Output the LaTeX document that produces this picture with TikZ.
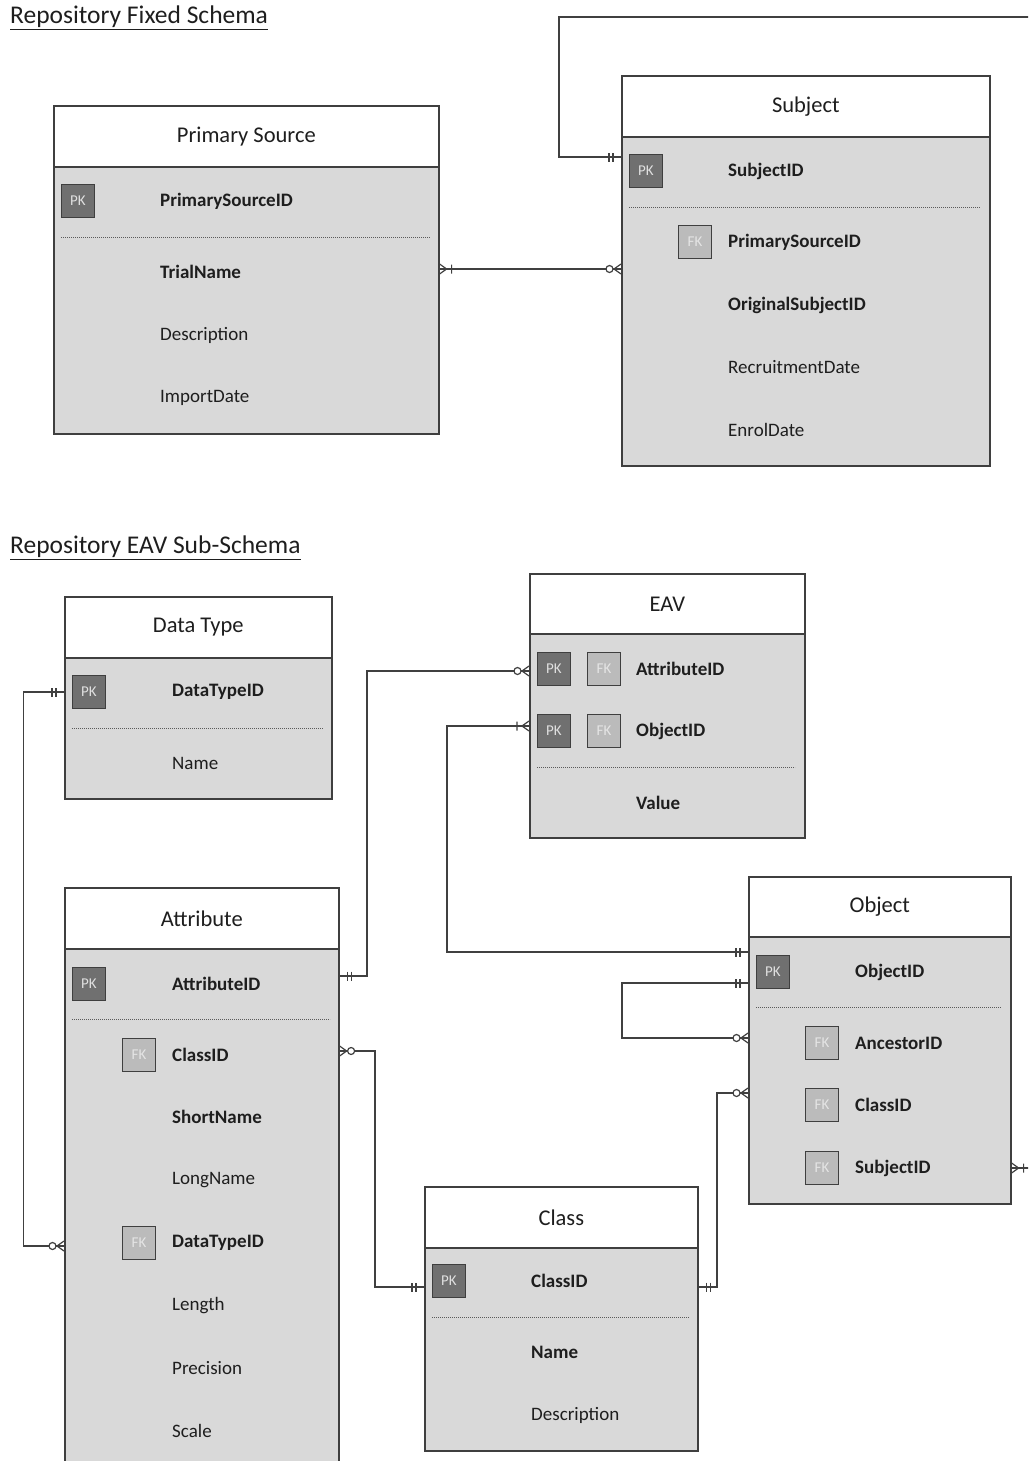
\documentclass[tikz,border=0pt]{standalone}
\usepackage{fontspec}
\setmainfont{Carlito}
\definecolor{bd}{HTML}{3F3F3F}
\definecolor{bodyg}{HTML}{D9D9D9}
\definecolor{pkf}{HTML}{707070}
\definecolor{fkf}{HTML}{BBBBBB}
\definecolor{tx}{HTML}{1E1E1E}
\definecolor{sepc}{HTML}{5A5A5A}
\definecolor{cc}{HTML}{404040}
\tikzset{
 ent/.style={draw=bd, line width=1.6pt, anchor=north west, inner sep=0pt},
 hdr/.style={ent, fill=white, text=tx, font=\fontsize{22.5}{26}\selectfont},
 bdy/.style={ent, fill=bodyg},
 pkbox/.style={draw=bd, line width=1.1pt, fill=pkf, minimum size=33pt, inner sep=0pt, text=white!88!black, font=\fontsize{15}{17}\selectfont},
 fkbox/.style={pkbox, fill=fkf, text=white!90!black},
 fld/.style={anchor=west, inner sep=0pt, text=tx, font=\fontsize{19}{22}\selectfont},
 bfld/.style={fld, font=\fontsize{19}{22}\selectfont\bfseries},
 sepline/.style={draw=sepc, line width=0.9pt, dash pattern=on 1.2pt off 0.8pt},
 conn/.style={draw=cc, line width=1.2pt},
 heading/.style={anchor=west, inner sep=0pt, text=tx, font=\fontsize{25.5}{29}\selectfont},
 mkone/.pic={\draw[conn] (8,-4.5)--(8,4.5) (12,-4.5)--(12,4.5);},
 mkzmany/.pic={\draw[conn] (0,-5)--(7,0)--(0,5); \draw[conn,fill=white] (11.5,0) circle (3.5);},
 mkomany/.pic={\draw[conn] (0,-5)--(7,0)--(0,5) (12,-4.5)--(12,4.5);}
}
\begin{document}
\begin{tikzpicture}[x=1pt,y=-1pt]
\useasboundingbox (0,0) rectangle (1028,1461);
\clip (0,0) rectangle (1028,1461);

% headings
\node[heading] (h1) at (10,18) {\underline{Repository Fixed Schema}};
\node[heading] (h2) at (10,548) {\underline{Repository EAV Sub-Schema}};

% ---------- Primary Source
\node[hdr, minimum width=385pt, minimum height=61pt] (psh) at (53,105) {Primary Source};
\node[bdy, minimum width=385pt, minimum height=267pt] (psb) at (53,166) {};
\node[pkbox] (pspk) at (78,201) {PK};
\node[bfld] (psf1) at (160,201) {PrimarySourceID};
\draw[sepline] (61,237) -- (430,237);
\node[bfld] (psf2) at (160,272) {TrialName};
\node[fld] (psf3) at (160,335) {Description};
\node[fld] (psf4) at (160,398) {ImportDate};

% ---------- Subject
\node[hdr, minimum width=368pt, minimum height=61pt] (sjh) at (621,75) {Subject};
\node[bdy, minimum width=368pt, minimum height=329pt] (sjb) at (621,136) {};
\node[pkbox] (sjpk) at (646,171) {PK};
\node[bfld] (sjf1) at (728,171) {SubjectID};
\draw[sepline] (629,207) -- (980,207);
\node[fkbox] (sjfk) at (695,242) {FK};
\node[bfld] (sjf2) at (728,242) {PrimarySourceID};
\node[bfld] (sjf3) at (728,305) {OriginalSubjectID};
\node[fld] (sjf4) at (728,367) {RecruitmentDate};
\node[fld] (sjf5) at (728,430) {EnrolDate};

% ---------- Data Type
\node[hdr, minimum width=267pt, minimum height=61pt] (dth) at (64,596) {Data Type};
\node[bdy, minimum width=267pt, minimum height=141pt] (dtb) at (64,657) {};
\node[pkbox] (dtpk) at (89,692) {PK};
\node[bfld] (dtf1) at (172,692) {DataTypeID};
\draw[sepline] (72,728) -- (323,728);
\node[fld] (dtf2) at (172,763) {Name};

% ---------- EAV
\node[hdr, minimum width=275pt, minimum height=60pt] (evh) at (529,573) {EAV};
\node[bdy, minimum width=275pt, minimum height=204pt] (evb) at (529,633) {};
\node[pkbox] (evpk1) at (554,669) {PK};
\node[fkbox] (evfk1) at (604,669) {FK};
\node[bfld] (evf1) at (636,669) {AttributeID};
\node[pkbox] (evpk2) at (554,731) {PK};
\node[fkbox] (evfk2) at (604,731) {FK};
\node[bfld] (evf2) at (636,731) {ObjectID};
\draw[sepline] (537,767) -- (795,767);
\node[bfld] (evf3) at (636,803) {Value};

% ---------- Attribute
\node[hdr, minimum width=274pt, minimum height=61pt] (ath) at (64,887) {Attribute};
\node[bdy, minimum width=274pt, minimum height=540pt] (atb) at (64,948) {};
\node[pkbox] (atpk) at (89,984) {PK};
\node[bfld] (atf1) at (172,984) {AttributeID};
\draw[sepline] (72,1019) -- (330,1019);
\node[fkbox] (atfk1) at (139,1055) {FK};
\node[bfld] (atf2) at (172,1055) {ClassID};
\node[bfld] (atf3) at (172,1117) {ShortName};
\node[fld] (atf4) at (172,1180) {LongName};
\node[fkbox] (atfk2) at (139,1243) {FK};
\node[bfld] (atf5) at (172,1243) {DataTypeID};
\node[fld] (atf6) at (172,1306) {Length};
\node[fld] (atf7) at (172,1368) {Precision};
\node[fld] (atf8) at (172,1431) {Scale};

% ---------- Object
\node[hdr, minimum width=262pt, minimum height=60pt] (obh) at (748,876) {Object};
\node[bdy, minimum width=262pt, minimum height=267pt] (obb) at (748,936) {};
\node[pkbox] (obpk) at (773,972) {PK};
\node[bfld] (obf1) at (855,972) {ObjectID};
\draw[sepline] (756,1007) -- (1001,1007);
\node[fkbox] (obfk1) at (822,1043) {FK};
\node[bfld] (obf2) at (855,1043) {AncestorID};
\node[fkbox] (obfk2) at (822,1105) {FK};
\node[bfld] (obf3) at (855,1105) {ClassID};
\node[fkbox] (obfk3) at (822,1168) {FK};
\node[bfld] (obf4) at (855,1168) {SubjectID};

% ---------- Class
\node[hdr, minimum width=273pt, minimum height=61pt] (clh) at (424,1186) {Class};
\node[bdy, minimum width=273pt, minimum height=203pt] (clb) at (424,1247) {};
\node[pkbox] (clpk) at (449,1281) {PK};
\node[bfld] (clf1) at (531,1281) {ClassID};
\draw[sepline] (432,1317) -- (689,1317);
\node[bfld] (clf2) at (531,1352) {Name};
\node[fld] (clf3) at (531,1415) {Description};

% ---------- connectors
\coordinate (offA) at (1032,17);
\coordinate (offB) at (1032,1168);

% Primary Source -- Subject
\draw[conn] (psb.east |- 0,269) -- (sjb.west |- 0,269);
\pic at (psb.east |- 0,269) {mkomany};
\pic[rotate=180] at (sjb.west |- 0,269) {mkzmany};

% Subject loop to the right edge
\draw[conn] (sjb.west |- 0,157) -- (559,157) -- (559,17) -- (offA);
\pic[rotate=180] at (sjb.west |- 0,157) {mkone};

% Data Type -- Attribute
\draw[conn] (dtb.west |- 0,692) -- (23.5,692) |- (atb.west |- 0,1246);
\pic[rotate=180] at (dtb.west |- 0,692) {mkone};
\pic[rotate=180] at (atb.west |- 0,1246) {mkzmany};

% Attribute -- EAV (AttributeID)
\draw[conn] (atb.east |- 0,976) -- (367,976) |- (evb.west |- 0,671);
\pic at (atb.east |- 0,976) {mkone};
\pic[rotate=180] at (evb.west |- 0,671) {mkzmany};

% Object -- EAV (ObjectID)
\draw[conn] (obb.west |- 0,952) -- (447,952) |- (evb.west |- 0,726);
\pic[rotate=180] at (obb.west |- 0,952) {mkone};
\pic[rotate=180] at (evb.west |- 0,726) {mkomany};

% Attribute ClassID -- Class
\draw[conn] (atb.east |- 0,1051) -- (375,1051) |- (clb.west |- 0,1287);
\pic at (atb.east |- 0,1051) {mkzmany};
\pic[rotate=180] at (clb.west |- 0,1287) {mkone};

% Class -- Object ClassID
\draw[conn] (clb.east |- 0,1287) -- (717,1287) |- (obb.west |- 0,1093);
\pic at (clb.east |- 0,1287) {mkone};
\pic[rotate=180] at (obb.west |- 0,1093) {mkzmany};

% Object self loop (AncestorID)
\draw[conn] (obb.west |- 0,983) -- (622,983) |- (obb.west |- 0,1038);
\pic[rotate=180] at (obb.west |- 0,983) {mkone};
\pic[rotate=180] at (obb.west |- 0,1038) {mkzmany};

% Object SubjectID to the right edge
\draw[conn] (obb.east |- 0,1168) -- (offB);
\pic at (obb.east |- 0,1168) {mkomany};

\end{tikzpicture}
\end{document}
